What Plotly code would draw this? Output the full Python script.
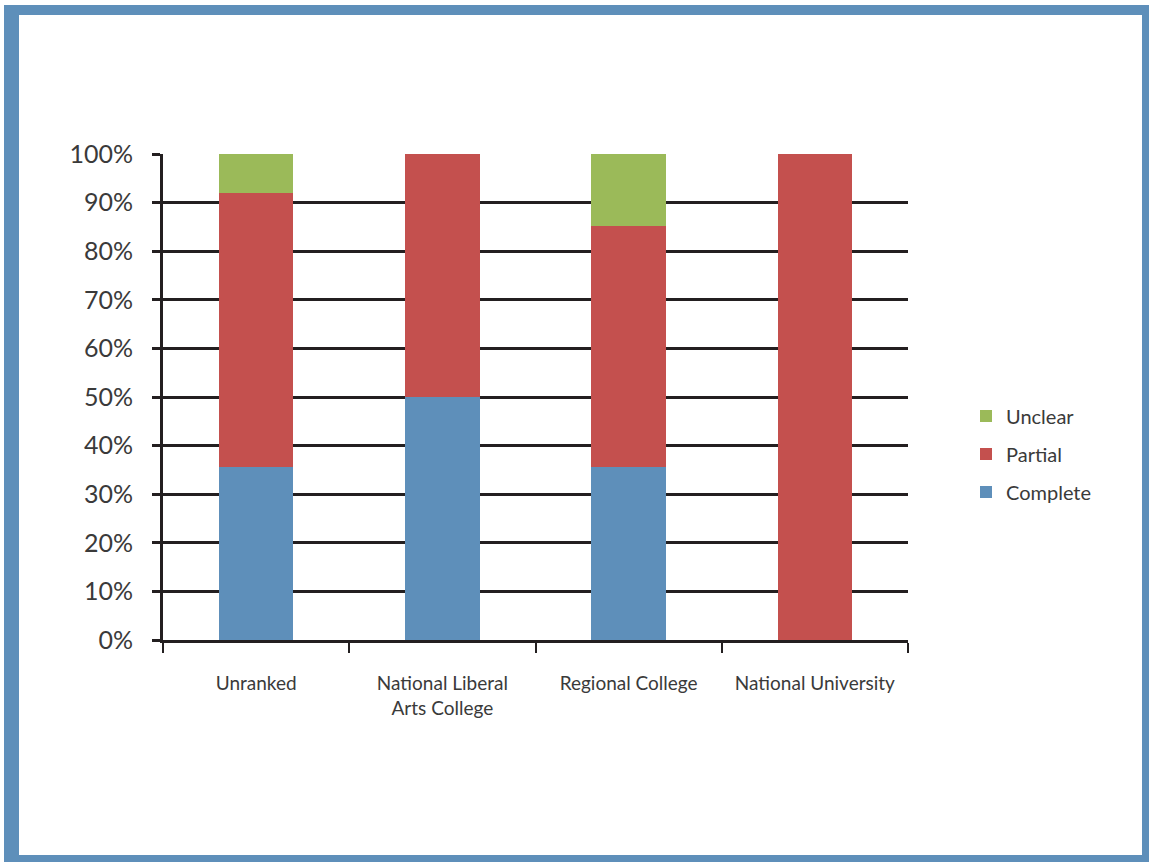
import plotly.graph_objects as go

categories = ["Unranked", "National Liberal<br>Arts College", "Regional College", "National University"]
complete = [35.5, 50.0, 35.5, 0.0]
partial = [56.5, 50.0, 49.6, 100.0]
unclear = [8.0, 0.0, 14.9, 0.0]
y_ticks = [0, 10, 20, 30, 40, 50, 60, 70, 80, 90, 100]

FONT = "Lato"
GRID = "#231F20"
TXT = "#3a3a3a"

fig = go.Figure()
fig.add_trace(go.Bar(name="Complete", x=categories, y=complete, marker_color="#5E8FBA",
                     marker_line_width=0, legendgroup="c", legendrank=3))
fig.add_trace(go.Bar(name="Partial", x=categories, y=partial, marker_color="#C4504E",
                     marker_line_width=0, legendgroup="p", legendrank=2))
fig.add_trace(go.Bar(name="Unclear", x=categories, y=unclear, marker_color="#9BBA59",
                     marker_line_width=0, legendgroup="u", legendrank=1))

W, H = 1149, 862
L, R, T, B = 163, 908, 154, 640

def px_to_paper_x(px):
    return (px - L) / (R - L)

def px_to_paper_y(py):
    return (B - py) / (B - T)

border = "#5E8FBA"
rects = [
    (4, 5, 19, 862),
    (4, 5, 1149, 15),
    (1142, 5, 1149, 862),
    (4, 855, 1149, 862),
]
shapes = []
for x0, y0, x1, y1 in rects:
    shapes.append(dict(type="rect", xref="paper", yref="paper",
                       x0=px_to_paper_x(x0), x1=px_to_paper_x(x1),
                       y0=px_to_paper_y(y1), y1=px_to_paper_y(y0),
                       fillcolor=border, line_width=0, layer="above"))

fig.update_layout(
    width=W, height=H,
    barmode="stack",
    bargap=0.6,
    plot_bgcolor="white",
    paper_bgcolor="white",
    margin=dict(l=L, r=W - R, t=T, b=H - B, autoexpand=False),
    font=dict(family=FONT, color=TXT),
    shapes=shapes,
    legend=dict(
        traceorder="grouped",
        tracegroupgap=9,
        x=px_to_paper_x(966), xanchor="left",
        y=px_to_paper_y(454), yanchor="middle",
        font=dict(size=20, family=FONT, color=TXT),
        itemsizing="constant",
        bgcolor="rgba(0,0,0,0)",
    ),
    xaxis=dict(
        showline=True, linecolor=GRID, linewidth=3,
        ticks="outside", tickson="boundaries", ticklen=10, tickwidth=2, tickcolor=GRID,
        tickfont=dict(size=19, family=FONT, color=TXT),
        ticklabelstandoff=24,
        showgrid=False,
    ),
    yaxis=dict(
        range=[0, 100],
        tickvals=y_ticks,
        ticktext=[f"{v}%" for v in y_ticks],
        showgrid=True, gridcolor=GRID, gridwidth=3,
        showline=True, linecolor=GRID, linewidth=3,
        ticks="outside", ticklen=8, tickwidth=3, tickcolor=GRID,
        tickfont=dict(size=25, family=FONT, color=TXT),
        ticklabelstandoff=14,
        zeroline=False,
    ),
)

fig.write_html("out.html", config={"displayModeBar": False},
               post_script="document.body.style.margin='0px';document.body.style.padding='0px';")
